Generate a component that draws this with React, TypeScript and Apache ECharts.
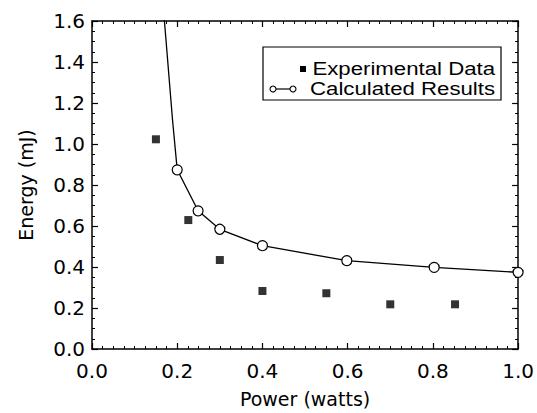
import React, { useEffect, useRef } from "react";
import * as echarts from "echarts";

const powerExp = [0.15, 0.226, 0.3, 0.4, 0.55, 0.7, 0.852];
const energyExp = [1.023, 0.629, 0.434, 0.283, 0.272, 0.218, 0.218];
const powerCalc = [0.2, 0.249, 0.3, 0.4, 0.598, 0.803, 1.0];
const energyCalc = [0.874, 0.674, 0.584, 0.504, 0.431, 0.398, 0.374];
const curvePower = [0.164, 0.17, 0.189, 0.2];
const curveEnergy = [1.75, 1.6, 1.117, 0.874];
const legendLabels = ["Experimental Data", "Calculated Results"];

const FONT = '"DejaVu Sans", sans-serif';
const LFONT = '"Liberation Sans", Arial, sans-serif';

export default function App() {
  const ref = useRef<HTMLDivElement>(null);
  useEffect(() => {
    if (!ref.current) return;
    const chart = echarts.init(ref.current, null, { renderer: "svg" });
    const axisCommon = {
      type: "value" as const,
      interval: 0.2,
      axisLine: { show: true, onZero: false, lineStyle: { color: "#000", width: 1.5 } },
      axisTick: { show: true, inside: true, length: 6, lineStyle: { color: "#000", width: 1.2 } },
      splitLine: { show: false },
    };
    const fmt = (v: number) => v.toFixed(1);
    chart.setOption({
      animation: false,
      backgroundColor: "#fff",
      grid: { left: 92, right: 15, top: 21, bottom: 64 },
      xAxis: [
        {
          ...axisCommon,
          min: 0,
          max: 1.0,
          position: "bottom",
          minorTick: { show: true, splitNumber: 8, length: 3, lineStyle: { color: "#000", width: 1 } },
          axisLabel: { formatter: fmt, color: "#000", fontFamily: FONT, fontSize: 20, margin: 12 },
          name: "Power (watts)",
          nameLocation: "middle",
          nameGap: 40,
          nameTextStyle: { color: "#000", fontFamily: FONT, fontSize: 19 },
        },
        {
          ...axisCommon,
          min: 0,
          max: 1.0,
          position: "top",
          minorTick: { show: true, splitNumber: 8, length: 3, lineStyle: { color: "#000", width: 1 } },
          axisLabel: { show: false },
        },
      ],
      yAxis: [
        {
          ...axisCommon,
          min: 0,
          max: 1.6,
          position: "left",
          minorTick: { show: true, splitNumber: 4, length: 3, lineStyle: { color: "#000", width: 1 } },
          axisLabel: { formatter: fmt, color: "#000", fontFamily: FONT, fontSize: 20, margin: 7 },
          name: "Energy (mJ)",
          nameLocation: "middle",
          nameGap: 57,
          nameTextStyle: { color: "#000", fontFamily: FONT, fontSize: 19 },
        },
        {
          ...axisCommon,
          min: 0,
          max: 1.6,
          position: "right",
          minorTick: { show: true, splitNumber: 4, length: 3, lineStyle: { color: "#000", width: 1 } },
          axisLabel: { show: false },
        },
      ],
      series: [
        {
          name: "curve",
          type: "line",
          data: curvePower.map((x, i) => [x, curveEnergy[i]]),
          symbol: "none",
          lineStyle: { color: "#000", width: 1.3 },
          clip: true,
          z: 2,
        },
        {
          name: legendLabels[1],
          type: "line",
          data: powerCalc.map((x, i) => [x, energyCalc[i]]),
          symbol: "circle",
          symbolSize: 10,
          itemStyle: { color: "#fff", borderColor: "#000", borderWidth: 1.2 },
          lineStyle: { color: "#000", width: 1.3 },
          clip: false,
          z: 3,
        },
        {
          name: legendLabels[0],
          type: "scatter",
          data: powerExp.map((x, i) => [x, energyExp[i]]),
          symbol: "rect",
          symbolSize: 8,
          itemStyle: { color: "#000" },
          z: 4,
        },
      ],
      graphic: [
        {
          type: "rect",
          shape: { x: 263, y: 47, width: 238, height: 53 },
          style: { fill: "#fff", stroke: "#000", lineWidth: 1.2 },
          z: 10,
        },
        {
          type: "rect",
          shape: { x: 300, y: 66, width: 6, height: 6 },
          style: { fill: "#000" },
          z: 11,
        },
        {
          type: "line",
          shape: { x1: 276, y1: 89, x2: 290, y2: 89 },
          style: { stroke: "#000", lineWidth: 1.2 },
          z: 11,
        },
        {
          type: "circle",
          shape: { cx: 273, cy: 89, r: 3 },
          style: { fill: "#fff", stroke: "#000", lineWidth: 1.1 },
          z: 12,
        },
        {
          type: "circle",
          shape: { cx: 293, cy: 89, r: 3 },
          style: { fill: "#fff", stroke: "#000", lineWidth: 1.1 },
          z: 12,
        },
        {
          type: "text",
          z: 12,
          x: 495,
          y: 69,
          scaleX: 1.2,
          scaleY: 1,
          style: {
            text: legendLabels[0],
            x: 0,
            y: 0,
            align: "right",
            verticalAlign: "middle",
            textAlign: "right",
            textVerticalAlign: "middle",
            font: `18.5px ${LFONT}`,
            fill: "#000",
          },
        },
        {
          type: "text",
          z: 12,
          x: 495,
          y: 89,
          scaleX: 1.2,
          scaleY: 1,
          style: {
            text: legendLabels[1],
            x: 0,
            y: 0,
            align: "right",
            verticalAlign: "middle",
            textAlign: "right",
            textVerticalAlign: "middle",
            font: `18.5px ${LFONT}`,
            fill: "#000",
          },
        },
      ],
    });
    return () => chart.dispose();
  }, []);
  return (
    <div
      ref={ref}
      style={{ width: 537, height: 413, position: "absolute", left: 0, top: 0 }}
    />
  );
}
